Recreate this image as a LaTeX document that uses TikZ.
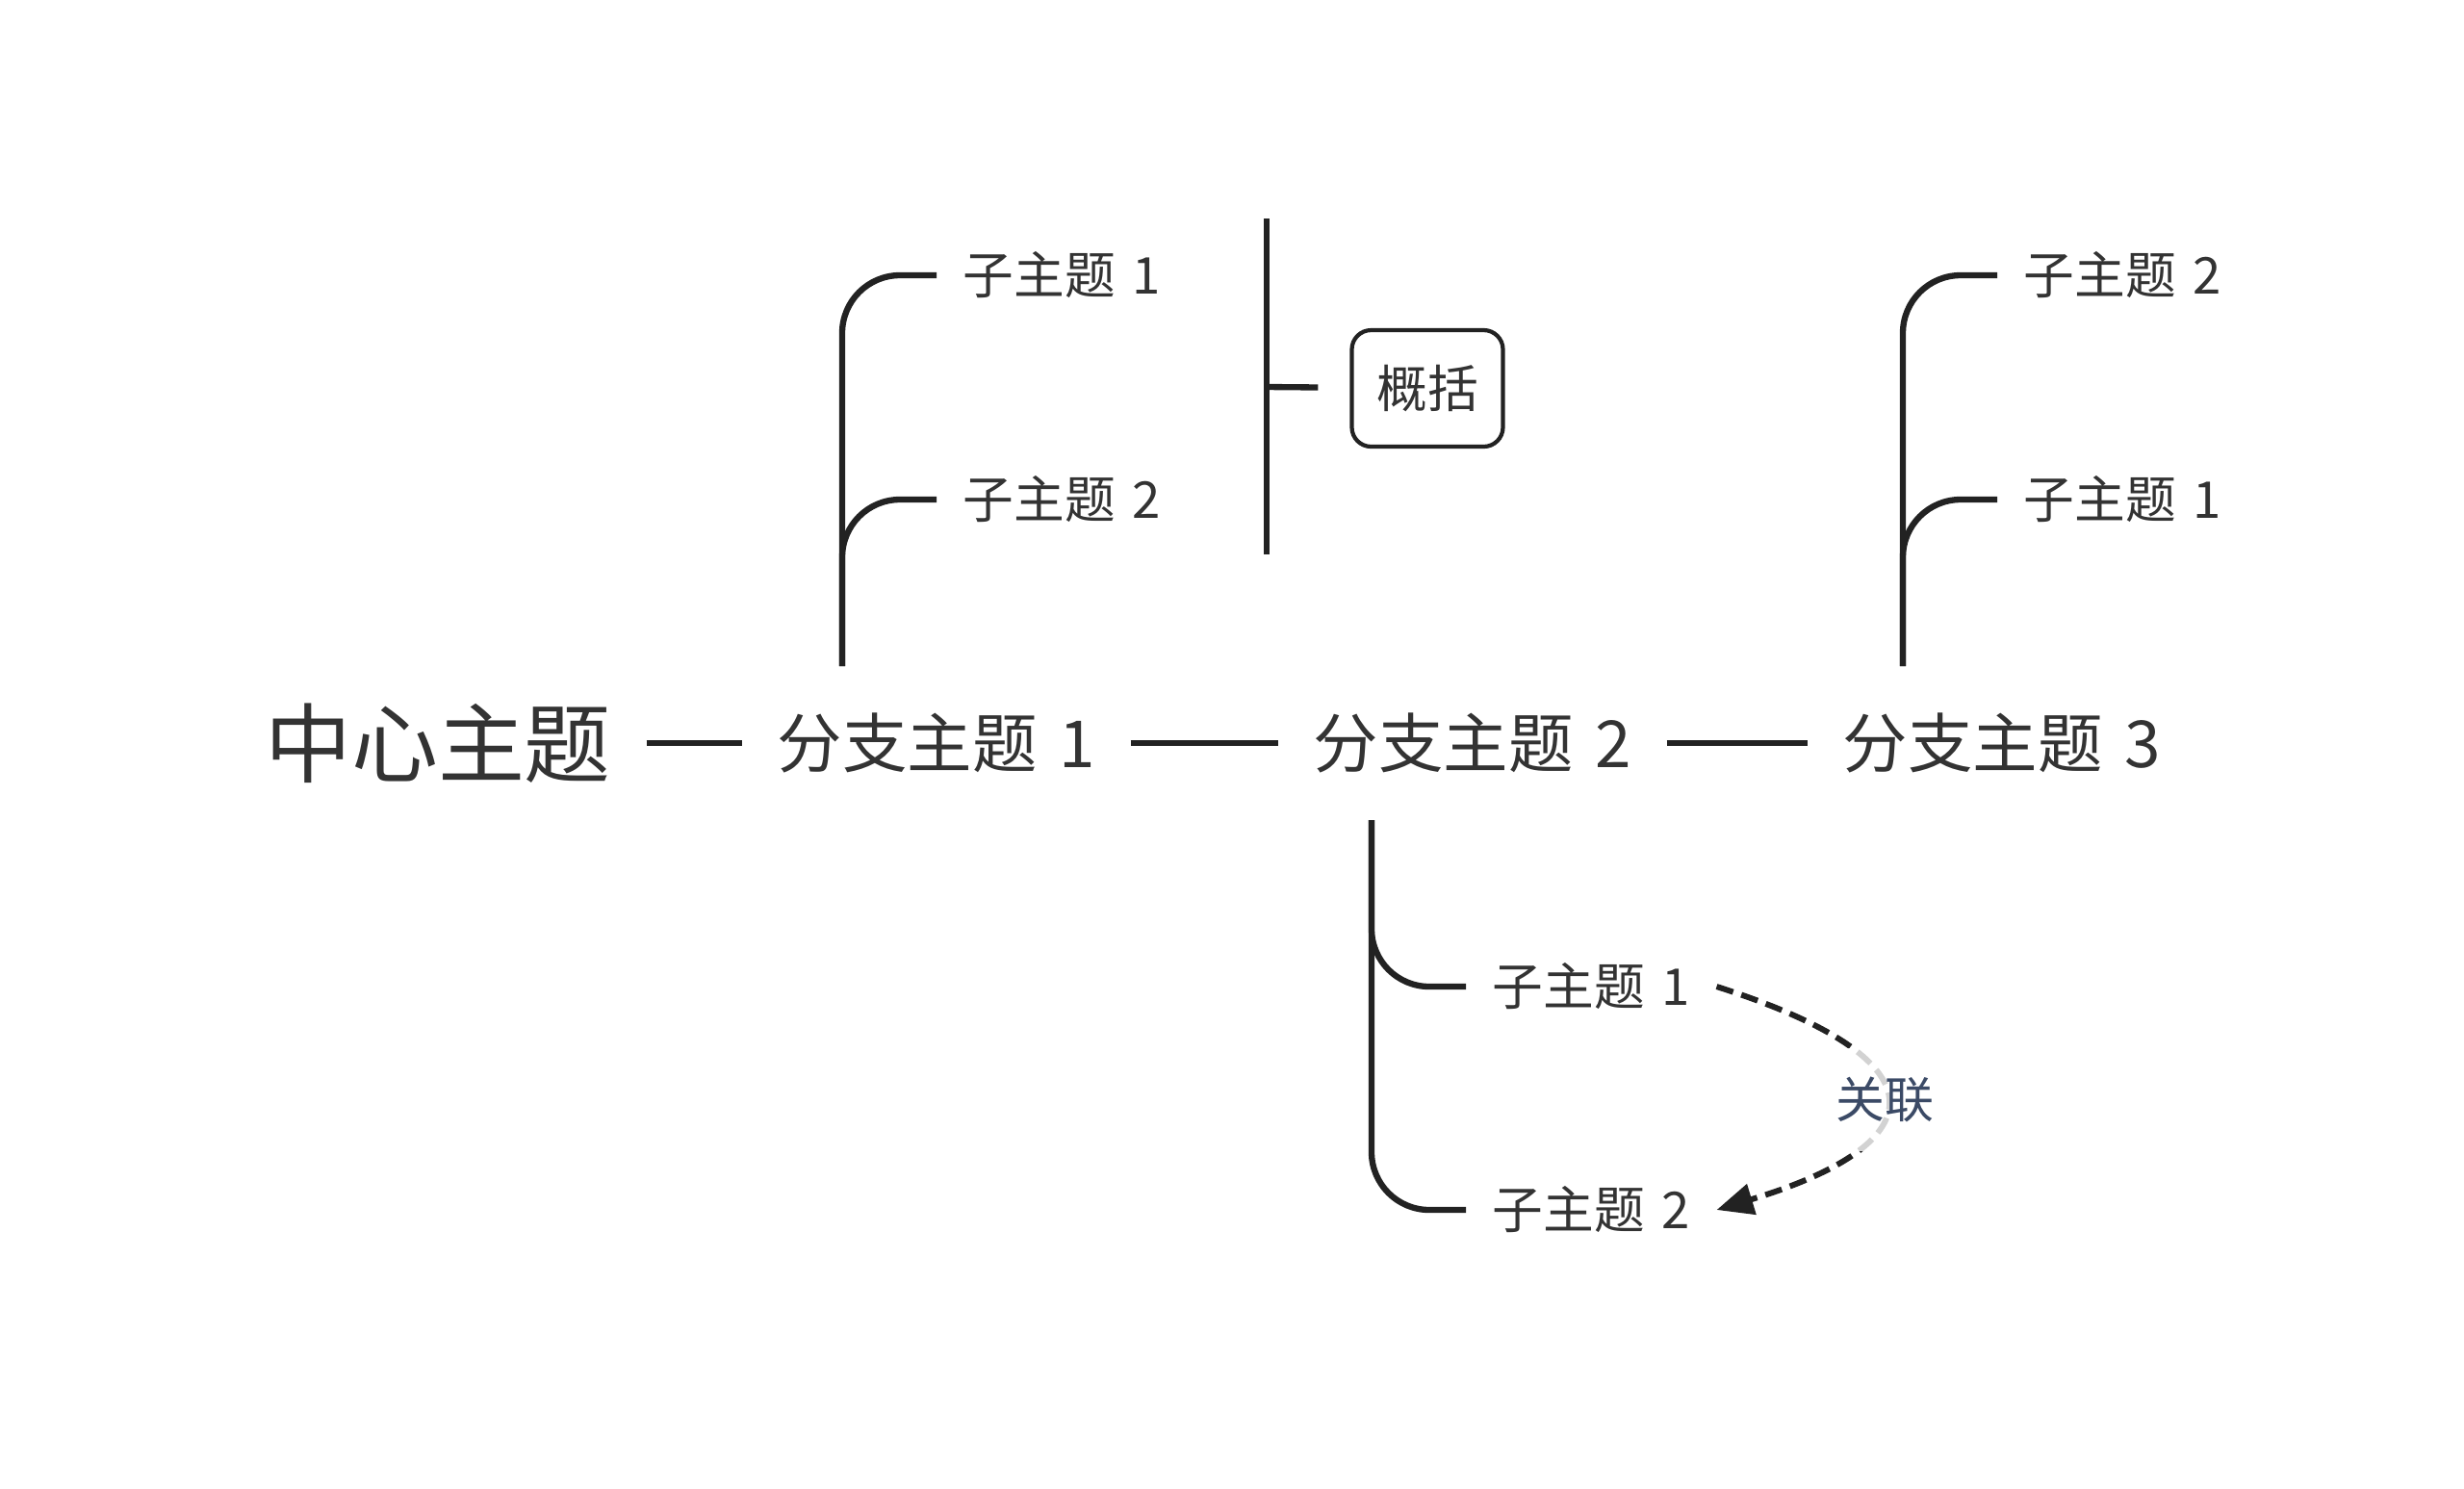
\documentclass[tikz,border=0pt]{standalone}
\usepackage{fontspec}
\setmainfont{Noto Sans CJK SC}[WordSpace=1.5]
\usepackage{tikz}
\usetikzlibrary{arrows.meta}
\definecolor{ink}{HTML}{333333}
\definecolor{wire}{HTML}{222222}
\definecolor{rellbl}{HTML}{3B4A66}

\begin{document}
\begin{tikzpicture}[
    ctr/.style={text=ink, inner xsep=0.36cm, inner ysep=0pt, font=\fontsize{25.6pt}{30pt}\selectfont, text height=0.73cm, text depth=0.05cm},
    branch/.style={text=ink, inner xsep=0.36cm, inner ysep=0pt, font=\fontsize{19.2pt}{23pt}\selectfont, text height=0.54cm, text depth=0.04cm},
    sub/.style={anchor=west, text=ink, inner xsep=0.27cm, inner ysep=0pt, font=\fontsize{15pt}{18pt}\selectfont, text height=0.42cm, text depth=0.03cm},
    summ/.style={draw=wire, line width=1.2pt, rounded corners=0.2cm, text=ink, minimum width=1.57cm, minimum height=1.21cm, font=\fontsize{15pt}{18pt}\selectfont},
    conn/.style={draw=wire, line width=1.8pt},
    brc/.style={draw=wire, line width=1.8pt, rounded corners=0.6cm},
    rel/.style={draw=wire, line width=1.7pt, dash pattern=on 0.18cm off 0.09cm, -{Triangle[length=0.38cm,width=0.32cm]}},
    rellabel/.style={text=rellbl, fill=white, fill opacity=0.8, text opacity=1, inner xsep=0.05cm, inner ysep=0.3cm, font=\fontsize{14.5pt}{17pt}\selectfont}
]

% Canvas
\fill[white] (0,0) rectangle (25.60,-15.46);
\useasboundingbox (0,0) rectangle (25.60,-15.46);

% Main row
\node[ctr] (center) at (4.55,-7.72) {中心主题};
\node[branch] (b1) at (9.73,-7.72) {分支主题 1};
\node[branch] (b2) at (15.30,-7.72) {分支主题 2};
\node[branch] (b3) at (20.80,-7.72) {分支主题 3};

\draw[conn] (center) -- (b1);
\draw[conn] (b1) -- (b2);
\draw[conn] (b2) -- (b3);

% Branch 1 children
\coordinate (j1) at (8.75,-6.92);
\node[sub] (b1s1) at (9.73,-2.86) {子主题 1};
\node[sub] (b1s2) at (9.73,-5.19) {子主题 2};
\draw[brc] (j1) |- (b1s1.west);
\draw[brc] (j1) |- (b1s2.west);

% Summary
\coordinate (stop) at (13.16,-2.27);
\coordinate (sbot) at (13.16,-5.76);
\coordinate (smid) at (13.16,-4.02);
\node[summ] (sum) at (14.83,-4.035) {概括};
\draw[conn] (stop) -- (sbot);
\draw[conn, shorten >=0.33cm] (smid) -- (sum);

% Branch 3 children
\coordinate (j3) at (19.77,-6.92);
\node[sub] (b3s2) at (20.75,-2.86) {子主题 2};
\node[sub] (b3s1) at (20.75,-5.19) {子主题 1};
\draw[brc] (j3) |- (b3s2.west);
\draw[brc] (j3) |- (b3s1.west);

% Branch 2 children
\coordinate (j2) at (14.25,-8.52);
\node[sub] (b2s1) at (15.23,-10.25) {子主题 1};
\node[sub] (b2s2) at (15.23,-12.57) {子主题 2};
\draw[brc] (j2) |- (b2s1.west);
\draw[brc] (j2) |- (b2s2.west);

% Relation
\draw[rel] (b2s1.east) .. controls +(2.36,-0.75) and +(2.31,0.70) .. (b2s2.east)
    node[rellabel, pos=0.5] (rl) {关联};

\end{tikzpicture}
\end{document}
